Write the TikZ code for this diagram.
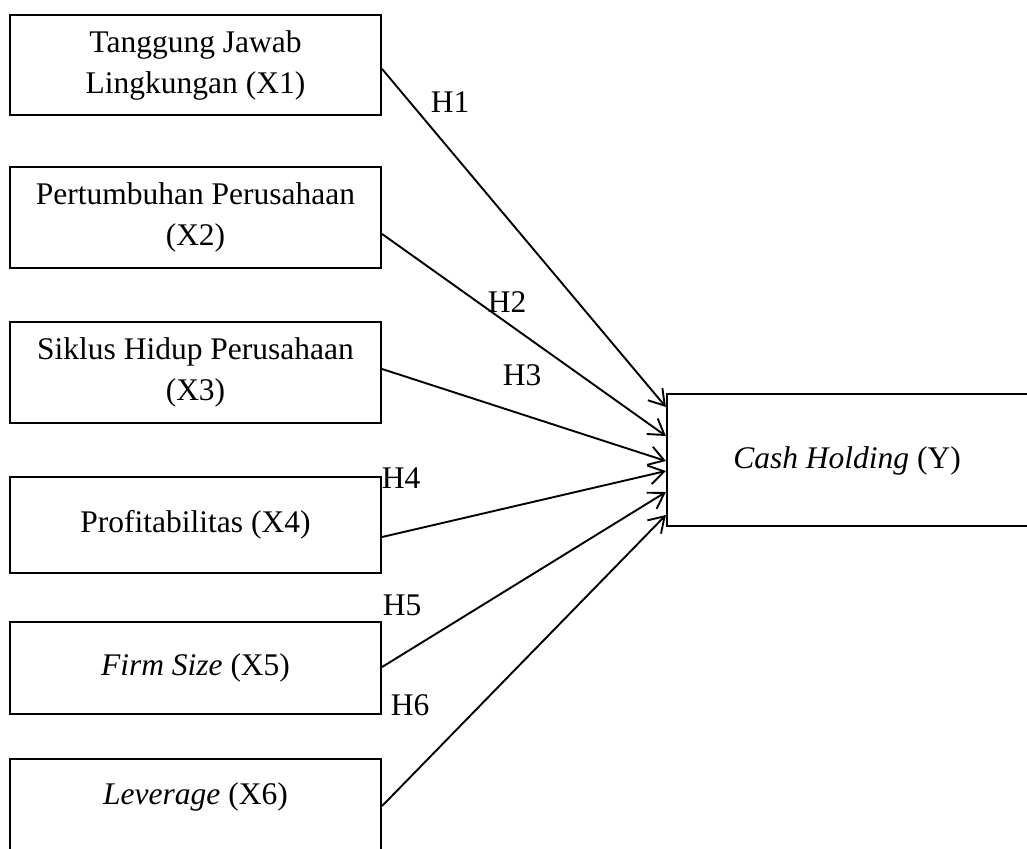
\documentclass[tikz,border=0pt]{standalone}
\usepackage{fontspec}
\setmainfont{Liberation Serif}
\usetikzlibrary{arrows.meta}
\tikzset{
  box/.style={draw, line width=2.2pt, rectangle, inner sep=0pt, align=center,
    font={\fontsize{31.5}{41}\selectfont}},
  lbl/.style={inner sep=0pt, font={\fontsize{31.5}{41}\selectfont}},
  conn/.style={line width=1.9pt, -{Straight Barb[length=15pt, width=19pt, line width=1.9pt]}}
}
\begin{document}
\begin{tikzpicture}[x=1pt, y=-1pt]
\useasboundingbox (0,0) rectangle (1027,848);
% left column
\node[box, minimum width=371pt, minimum height=100pt] (x1) at (195.5,65) {Tanggung Jawab\\Lingkungan (X1)};
\node[box, minimum width=371pt, minimum height=101pt] (x2) at (195.5,217.5) {Pertumbuhan Perusahaan\\(X2)};
\node[box, minimum width=371pt, minimum height=101pt] (x3) at (195.5,372.5) {Siklus Hidup Perusahaan\\(X3)};
\node[box, minimum width=371pt, minimum height=96pt] (x4) at (195.5,525) {Profitabilitas (X4)};
\node[box, minimum width=371pt, minimum height=92pt] (x5) at (195.5,668) {\textit{Firm Size} (X5)};
\node[box, minimum width=371pt, minimum height=100pt] (x6) at (195.5,809) {};
\node[lbl] (x6t) at (195.5,797) {\textit{Leverage} (X6)};
% dependent
\node[box, minimum width=362pt, minimum height=132pt] (y) at (848,460) {};
\node[lbl] (yt) at (847,461) {\textit{Cash Holding} (Y)};
% connectors
\draw[conn] ([yshift=-4pt]x1.east) -- ([yshift=53pt]y.west);
\draw[conn] ([yshift=-16.5pt]x2.east) -- ([yshift=24pt]y.west);
\draw[conn] ([yshift=3.5pt]x3.east) -- ([yshift=-1pt]y.west);
\draw[conn] ([yshift=-12pt]x4.east) -- ([yshift=-11pt]y.west);
\draw[conn] ([yshift=1pt]x5.east) -- ([yshift=-32pt]y.west);
\draw[conn] ([yshift=3pt]x6.east) -- ([yshift=-55pt]y.west);
% hypothesis labels
\node[lbl] (h1) at (450,102) {H1};
\node[lbl] (h2) at (507,302) {H2};
\node[lbl] (h3) at (522,375) {H3};
\node[lbl] (h4) at (401,478) {H4};
\node[lbl] (h5) at (402,605) {H5};
\node[lbl] (h6) at (410,705) {H6};
\end{tikzpicture}
\end{document}
